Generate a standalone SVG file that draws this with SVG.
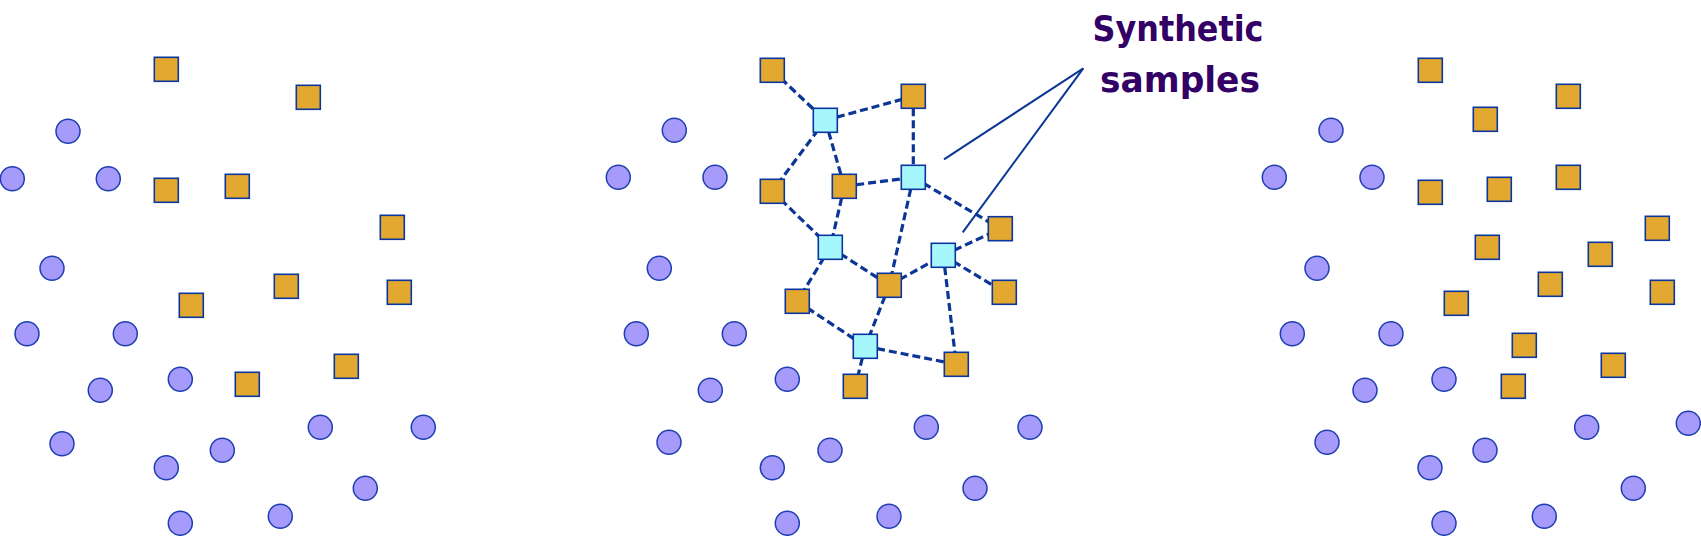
<svg xmlns="http://www.w3.org/2000/svg" width="1701" height="536" viewBox="0 0 1701 536">
<style>
.c{fill:#a69afa;stroke:#1f3fb0;stroke-width:1.5}
.s{fill:#e2a82f;stroke:#0a36a0;stroke-width:1.6}
.n{fill:#a6f7fb;stroke:#0a36a0;stroke-width:1.6}
.d{stroke:#0b3596;stroke-width:3.2;stroke-dasharray:8 4;fill:none}
.p{stroke:#0b3596;stroke-width:2;fill:none}
.t{font-family:"DejaVu Sans",sans-serif;font-weight:bold;font-size:35px;fill:#330066;text-anchor:middle}
</style>
<defs>
<circle id="ci" r="12" class="c"/>
<rect id="sq" width="24" height="24" class="s"/>
<rect id="nq" width="24" height="24" class="n"/>
</defs>
<rect width="1701" height="536" fill="#fff"/>

<g id="panel-left">
<use href="#sq" x="154.3" y="57.3"/>
<use href="#sq" x="296.3" y="85.3"/>
<use href="#sq" x="154.3" y="178.3"/>
<use href="#sq" x="225.3" y="174.3"/>
<use href="#sq" x="380.3" y="215.3"/>
<use href="#sq" x="274.3" y="274.3"/>
<use href="#sq" x="387.3" y="280.3"/>
<use href="#sq" x="179.3" y="293.3"/>
<use href="#sq" x="334.3" y="354.3"/>
<use href="#sq" x="235.3" y="372.3"/>
<use href="#ci" x="68" y="131.3"/>
<use href="#ci" x="12.3" y="178.7"/>
<use href="#ci" x="108.3" y="178.7"/>
<use href="#ci" x="52" y="268.3"/>
<use href="#ci" x="27" y="333.7"/>
<use href="#ci" x="125.3" y="333.7"/>
<use href="#ci" x="100.3" y="390.3"/>
<use href="#ci" x="180.3" y="379.3"/>
<use href="#ci" x="62" y="443.7"/>
<use href="#ci" x="166.3" y="467.7"/>
<use href="#ci" x="222.3" y="450.3"/>
<use href="#ci" x="320.3" y="427.3"/>
<use href="#ci" x="423.3" y="427.3"/>
<use href="#ci" x="365.3" y="488.3"/>
<use href="#ci" x="180.3" y="523.3"/>
<use href="#ci" x="280.3" y="516.3"/>
</g>

<g id="connectors">
<line class="d" x1="772.3" y1="70.3" x2="825.3" y2="120.3"/>
<line class="d" x1="825.3" y1="120.3" x2="913.3" y2="96.3"/>
<line class="d" x1="825.3" y1="120.3" x2="772.3" y2="191.3"/>
<line class="d" x1="825.3" y1="120.3" x2="844.3" y2="186.3"/>
<line class="d" x1="913.3" y1="96.3" x2="913.3" y2="177.3"/>
<line class="d" x1="844.3" y1="186.3" x2="913.3" y2="177.3"/>
<line class="d" x1="913.3" y1="177.3" x2="1000.3" y2="228.7"/>
<line class="d" x1="913.3" y1="177.3" x2="889.3" y2="285.3"/>
<line class="d" x1="772.3" y1="191.3" x2="830.3" y2="247.3"/>
<line class="d" x1="844.3" y1="186.3" x2="830.3" y2="247.3"/>
<line class="d" x1="830.3" y1="247.3" x2="797.3" y2="301.3"/>
<line class="d" x1="830.3" y1="247.3" x2="889.3" y2="285.3"/>
<line class="d" x1="889.3" y1="285.3" x2="943.3" y2="255.3"/>
<line class="d" x1="943.3" y1="255.3" x2="1000.3" y2="228.7"/>
<line class="d" x1="943.3" y1="255.3" x2="1004.3" y2="292.3"/>
<line class="d" x1="943.3" y1="255.3" x2="956.3" y2="364.3"/>
<line class="d" x1="797.3" y1="301.3" x2="865.3" y2="346.3"/>
<line class="d" x1="889.3" y1="285.3" x2="865.3" y2="346.3"/>
<line class="d" x1="865.3" y1="346.3" x2="956.3" y2="364.3"/>
<line class="d" x1="865.3" y1="346.3" x2="855.3" y2="386.3"/>
<line class="p" x1="944" y1="159.3" x2="1083.3" y2="68.3"/>
<line class="p" x1="962.7" y1="232.3" x2="1083.3" y2="68.3"/>
</g>

<g id="panel-middle">
<use href="#sq" x="760.3" y="58.3"/>
<use href="#sq" x="901.3" y="84.3"/>
<use href="#sq" x="760.3" y="179.3"/>
<use href="#sq" x="832.3" y="174.3"/>
<use href="#sq" x="988.3" y="216.7"/>
<use href="#sq" x="877.3" y="273.3"/>
<use href="#sq" x="992.3" y="280.3"/>
<use href="#sq" x="785.3" y="289.3"/>
<use href="#sq" x="944.3" y="352.3"/>
<use href="#sq" x="843.3" y="374.3"/>
<use href="#nq" x="813.3" y="108.3"/>
<use href="#nq" x="901.3" y="165.3"/>
<use href="#nq" x="818.3" y="235.3"/>
<use href="#nq" x="931.3" y="243.3"/>
<use href="#nq" x="853.3" y="334.3"/>
<use href="#ci" x="674.3" y="130.3"/>
<use href="#ci" x="618.3" y="177.3"/>
<use href="#ci" x="715" y="177.3"/>
<use href="#ci" x="659.3" y="268.3"/>
<use href="#ci" x="636.3" y="333.7"/>
<use href="#ci" x="734.3" y="333.7"/>
<use href="#ci" x="710.3" y="390.3"/>
<use href="#ci" x="787.3" y="379.3"/>
<use href="#ci" x="669" y="442.3"/>
<use href="#ci" x="772.3" y="467.7"/>
<use href="#ci" x="830" y="450.3"/>
<use href="#ci" x="926.3" y="427.3"/>
<use href="#ci" x="1030" y="427.3"/>
<use href="#ci" x="975" y="488.3"/>
<use href="#ci" x="787.3" y="523.3"/>
<use href="#ci" x="889" y="516.3"/>
</g>

<g id="label">
<text class="t" x="1178" y="40.5" textLength="171" lengthAdjust="spacingAndGlyphs">Synthetic</text>
<text class="t" x="1180" y="92" textLength="160" lengthAdjust="spacingAndGlyphs">samples</text>
</g>

<g id="panel-right">
<use href="#sq" x="1418.3" y="58.3"/>
<use href="#sq" x="1556.3" y="84.3"/>
<use href="#sq" x="1473.3" y="107.3"/>
<use href="#sq" x="1418.3" y="180.3"/>
<use href="#sq" x="1487.3" y="177.3"/>
<use href="#sq" x="1556.3" y="165.3"/>
<use href="#sq" x="1645.3" y="216.3"/>
<use href="#sq" x="1475.3" y="235.3"/>
<use href="#sq" x="1588.3" y="242.3"/>
<use href="#sq" x="1538.3" y="272.3"/>
<use href="#sq" x="1650.3" y="280.3"/>
<use href="#sq" x="1444.3" y="291.3"/>
<use href="#sq" x="1512.3" y="333.3"/>
<use href="#sq" x="1601.3" y="353.3"/>
<use href="#sq" x="1501.3" y="374.3"/>
<use href="#ci" x="1331" y="130.3"/>
<use href="#ci" x="1274.3" y="177.3"/>
<use href="#ci" x="1372" y="177.3"/>
<use href="#ci" x="1317" y="268.3"/>
<use href="#ci" x="1292.3" y="333.7"/>
<use href="#ci" x="1391" y="333.7"/>
<use href="#ci" x="1365" y="390.3"/>
<use href="#ci" x="1444" y="379.3"/>
<use href="#ci" x="1327" y="442.3"/>
<use href="#ci" x="1430" y="467.7"/>
<use href="#ci" x="1485" y="450.3"/>
<use href="#ci" x="1586.7" y="427.3"/>
<use href="#ci" x="1688.3" y="423.3"/>
<use href="#ci" x="1633.3" y="488.3"/>
<use href="#ci" x="1444" y="523.3"/>
<use href="#ci" x="1544.3" y="516.3"/>
</g>
</svg>
